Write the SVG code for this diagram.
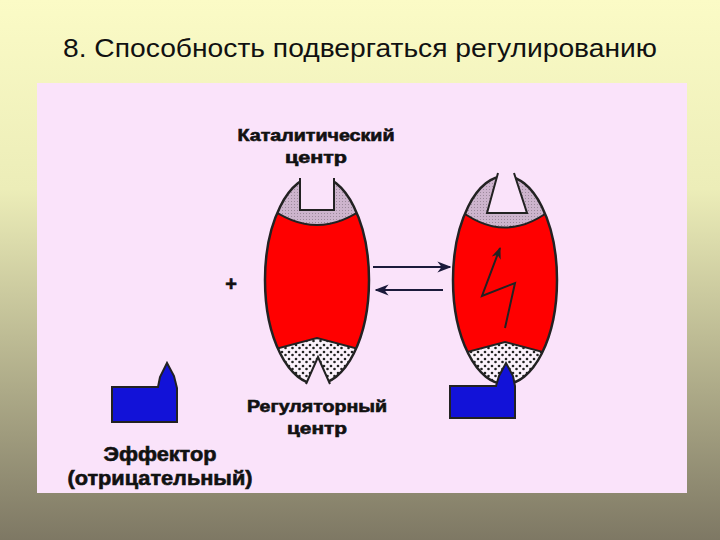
<svg xmlns="http://www.w3.org/2000/svg" width="720" height="540" viewBox="0 0 720 540">
<defs>
<linearGradient id="bg" x1="0" y1="0" x2="0" y2="1">
<stop offset="0" stop-color="#fbfbc6"/><stop offset="0.35" stop-color="#ecedb8"/><stop offset="1" stop-color="#7e7864"/>
</linearGradient>
<pattern id="dots" width="7" height="7" patternUnits="userSpaceOnUse">
<rect width="7" height="7" fill="#fbf2fb"/><circle cx="2" cy="2" r="1.3" fill="#222"/><circle cx="5.5" cy="5" r="1.3" fill="#222"/>
</pattern>
<pattern id="stip" width="3" height="3" patternUnits="userSpaceOnUse">
<rect width="3" height="3" fill="#cdb4cd"/><rect width="1" height="1" fill="#9c8a9c"/>
</pattern>
<clipPath id="cl"><ellipse cx="317" cy="280" rx="52" ry="104"/></clipPath>
<clipPath id="cr"><ellipse cx="505" cy="280" rx="52" ry="104"/></clipPath>
<marker id="ah" viewBox="0 0 10 10" refX="9" refY="5" markerWidth="7" markerHeight="7" orient="auto"><path d="M0,1 L10,5 L0,9 L3,5 Z" fill="#1a1a3a"/></marker>
<marker id="ah2" viewBox="0 0 10 10" refX="9" refY="5" markerWidth="6" markerHeight="6" orient="auto"><path d="M0,1 L10,5 L0,9 L3,5 Z" fill="#222"/></marker>
<style>
.o{stroke:#222;stroke-width:2.5;fill:none}
.n{fill:#fae3fa;stroke:none}
.s{fill:none;stroke:#222;stroke-width:2}
.t{font-family:"Liberation Sans",Arial,sans-serif;font-weight:bold;fill:#111;stroke:#111;stroke-width:0.6;text-anchor:middle}
.b{fill:#1212d8;stroke:#222;stroke-width:2}
</style>
</defs>
<rect width="720" height="540" fill="url(#bg)"/>
<text x="360" y="57" font-family="'Liberation Sans',Arial,sans-serif" font-size="25" text-anchor="middle" fill="#111" textLength="594" lengthAdjust="spacingAndGlyphs">8. Способность подвергаться регулированию</text>
<rect x="37" y="83" width="650" height="410" fill="#fae3fa"/>
<g id="left-enzyme">
<ellipse cx="317" cy="280" rx="52" ry="104" fill="#ff0000"/>
<g clip-path="url(#cl)">
<path d="M260,160 L260,200 Q317,250 374,200 L374,160 Z" fill="url(#stip)" stroke="#222" stroke-width="2"/>
<path d="M260,400 L260,353 L317,338 L374,353 L374,400 Z" fill="url(#dots)" stroke="#222" stroke-width="2"/>
</g>
<ellipse cx="317" cy="280" rx="52" ry="104" class="o"/>
<path d="M301,170 L301,209 L333,209 L333,170 Z" class="n"/>
<path d="M300,178 L300,210 L334,210 L334,178" class="s"/>
<path d="M303,392 L318,357 L333,392 Z" class="n"/>
<path d="M306,384 L318,357 L330,384" class="s"/>
</g>
<g id="right-enzyme">
<ellipse cx="505" cy="280" rx="52" ry="104" fill="#ff0000"/>
<g clip-path="url(#cr)">
<path d="M448,160 L448,200 Q505,255 562,200 L562,160 Z" fill="url(#stip)" stroke="#222" stroke-width="2"/>
<path d="M448,400 L448,357 L505,342 L562,357 L562,400 Z" fill="url(#dots)" stroke="#222" stroke-width="2"/>
</g>
<ellipse cx="505" cy="280" rx="52" ry="104" class="o"/>
<path d="M499,168 L488,212 L526,212 L513,168 Z" class="n"/>
<path d="M498,173 L487,213 L527,213 L514,173" class="s"/>
<path d="M505,328 L515,283 L482,296 L500,248" fill="none" stroke="#222" stroke-width="2" marker-end="url(#ah2)"/>
</g>
<g id="effector-bound">
<path d="M450,386 L496,386 L499,376 L506,363 L513,376 L515,386 L515,418 L450,418 Z" class="b"/>
</g>
<g id="effector">
<path d="M112,387 L158,387 L160,377 L167,363 L174,376 L177,388 L177,422 L112,422 Z" class="b"/>
</g>
<g id="connectors">
<line x1="373" y1="267" x2="450" y2="267" stroke="#1a1a3a" stroke-width="2" marker-end="url(#ah)"/>
<line x1="443" y1="290" x2="376" y2="290" stroke="#1a1a3a" stroke-width="2" marker-end="url(#ah)"/>
</g>
<text x="231" y="291" class="t" font-size="20">+</text>
<text class="t" font-size="16" x="316" y="141" textLength="157" lengthAdjust="spacingAndGlyphs">Каталитический</text>
<text class="t" font-size="16" x="316" y="163" textLength="62" lengthAdjust="spacingAndGlyphs">центр</text>
<text class="t" font-size="16" x="317" y="412" textLength="140" lengthAdjust="spacingAndGlyphs">Регуляторный</text>
<text class="t" font-size="16" x="317" y="434" textLength="60" lengthAdjust="spacingAndGlyphs">центр</text>
<text class="t" font-size="20" x="160" y="461" textLength="113" lengthAdjust="spacingAndGlyphs">Эффектор</text>
<text class="t" font-size="20" x="160" y="485" textLength="185" lengthAdjust="spacingAndGlyphs">(отрицательный)</text>
</svg>
